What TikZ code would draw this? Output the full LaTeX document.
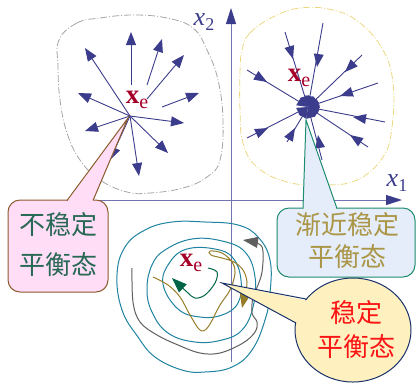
\documentclass[tikz,border=0pt]{standalone}
\usepackage{fontspec}
\setmainfont{Liberation Serif}
\newfontfamily\cjk{Noto Sans CJK SC}
\usetikzlibrary{arrows.meta,calc}

\definecolor{vecblue}{RGB}{60,60,140}
\definecolor{axisblue}{RGB}{115,115,175}
\definecolor{xered}{RGB}{165,0,40}
\definecolor{ringteal}{RGB}{30,130,160}
\definecolor{trajgray}{RGB}{95,95,95}
\definecolor{trajolive}{RGB}{150,125,40}
\definecolor{trajgreen}{RGB}{0,100,70}
\definecolor{regiongray}{RGB}{165,165,165}
\definecolor{regionyellow}{RGB}{235,215,130}
\definecolor{pinkfill}{RGB}{255,221,246}
\definecolor{pinkline}{RGB}{140,90,45}
\definecolor{pinktext}{RGB}{40,105,85}
\definecolor{bluefill}{RGB}{229,236,250}
\definecolor{blueline}{RGB}{30,140,110}
\definecolor{bluetext}{RGB}{170,150,70}
\definecolor{yellowfill}{RGB}{255,240,192}
\definecolor{yellowline}{RGB}{25,50,105}
\definecolor{yellowtext}{RGB}{250,20,20}

% equilibrium label x_e
\newcommand{\xeq}{{\fontsize{27}{27}\selectfont\bfseries x}\raisebox{-5pt}{\fontsize{20}{20}\selectfont e}}
% axis label x_i
\newcommand{\axlab}[1]{{\fontsize{26}{26}\selectfont\itshape x}\raisebox{-5pt}{\fontsize{18}{18}\selectfont #1}}
% filled head at #2, pointing away from #1
\newcommand{\midtip}[2]{\fill[vecblue] (#2) -- ($(#2)!13pt!(#1)!5pt!90:(#1)$)
  -- ($(#2)!13pt!(#1)!5pt!-90:(#1)$) -- cycle;}

\tikzset{
  vec/.style={color=vecblue, line width=0.9pt, -{Triangle[length=13pt,width=10pt]}},
  endvec/.style={color=vecblue, line width=0.9pt, -{Triangle[length=11pt,width=9pt]}},
  axis/.style={draw=axisblue, line width=1pt, -{Triangle[length=16pt,width=10pt,color=vecblue]}},
  region/.style={line width=0.8pt, dash pattern=on 7pt off 2pt on 1pt off 2pt},
  ring/.style={draw=ringteal, line width=1pt},
  traj/.style={line width=1pt, -{Triangle[length=15pt,width=11pt]}},
  eqlabel/.style={text=xered, inner sep=0pt},
  calltext/.style={font=\cjk\fontsize{26}{#1}\selectfont, align=center, inner sep=0pt},
}

\begin{document}
\begin{tikzpicture}[x=1pt,y=-1pt]
  \useasboundingbox (0,0) rectangle (417,384);

  % koordinat eksenleri
  \draw[axis] (25,200) -- (402,200);
  \draw[axis] (231,362) -- (231,8);
  \node (xone) at (397,183) {\color{vecblue}\axlab{1}};
  \node (xtwo) at (204,22) {\color{vecblue}\axlab{2}};

  % kararsiz denge: disa dogru vektorler
  \coordinate (lc) at (130,116);
  \draw[region, draw=regiongray] plot[smooth cycle, tension=0.7] coordinates {
    (59,40) (77,23) (100,18) (133,15) (167,18) (193,28) (207,50) (218,80) (223,120)
    (220,160) (207,177) (183,188) (150,193) (127,192) (100,180) (80,160) (67,133) (60,100) (58,67)};
  \foreach \tx/\ty in {85/48, 184/123, 168/153, 139/176, 110/160, 85/131, 78/93}
    \draw[vec] (lc) -- (\tx,\ty);
  \foreach \sx/\sy/\tx/\ty in {131/85/131/32, 147/85/162/39, 147/99/184/55, 162/107/199/93}
    \draw[vec] (\sx,\sy) -- (\tx,\ty);
  \node[eqlabel] (xeleft) at (137,100) {\xeq};

  % asimptotik kararli denge: ice dogru vektorler
  \coordinate (rc) at (308,107);
  \draw[region, draw=regionyellow] plot[smooth cycle, tension=0.7] coordinates {
    (242,50) (250,33) (273,17) (300,8) (333,10) (360,23) (383,50) (393,83) (392,127)
    (383,157) (357,180) (323,185) (287,182) (257,167) (243,143) (240,110) (240,73)};
  \foreach \sx/\sy in {285/32, 323/23, 362/55, 378/83, 385/122, 368/147, 247/70, 247/138, 287/142, 322/160}
    \draw[endvec] (\sx,\sy) -- (rc);
  % ara ok uclari
  \midtip{285,32}{293,59}
  \midtip{323,23}{317,67}
  \midtip{362,55}{345,72}
  \midtip{378,83}{340,96}
  \midtip{385,122}{353,117}
  \midtip{368,147}{350,135}
  \midtip{247,70}{267,82}
  \midtip{247,138}{268,128}
  \midtip{287,142}{295,128}
  \midtip{322,160}{318,135}
  \node[eqlabel] (xeright) at (299,78) {\xeq};

  % kararli denge: es yukseklik egrileri ve yorungeler
  \draw[ring] plot[smooth cycle, tension=0.7] coordinates {
    (117,275) (125,247) (145,230) (172,222) (205,222) (238,225) (258,237) (270,260) (270,293)
    (265,320) (252,350) (232,367) (205,372) (182,370) (155,357) (138,337) (122,310)};
  \draw[ring] plot[smooth cycle, tension=0.7] coordinates {
    (147,289) (152,265) (165,250) (192,239) (222,241) (245,252) (255,277) (253,307)
    (242,330) (222,340) (195,342) (168,333) (152,312)};
  \draw[ring] plot[smooth cycle, tension=0.7] coordinates {
    (163,284) (170,262) (187,249) (215,249) (233,258) (241,280) (238,303) (222,315)
    (200,317) (178,309)};
  \draw[traj, trajgray] plot[smooth, tension=0.6] coordinates {
    (132,268) (133,302) (140,322) (157,335) (178,345) (200,353) (220,353) (243,343)
    (255,332) (257,322) (252,313) (253,297) (258,285) (262,272) (263,252) (259,244) (243,240)};
  \draw[traj, trajolive] plot[smooth, tension=0.6] coordinates {
    (153,277) (168,285) (180,297) (190,315) (200,330) (208,327) (220,305) (230,290)
    (235,273) (232,262) (222,253) (210,251) (211,255) (222,258) (234,262) (243,270)
    (247,282) (245,294) (242,308)};
  \draw[traj, trajgreen] plot[smooth, tension=0.6] coordinates {
    (208,268) (217,272) (215,283) (205,295) (195,298) (187,292) (172,278)};
  \node[eqlabel] (xebottom) at (191,263) {\xeq};

  % aciklama balonlari
  \coordinate (lptr) at (128,118);
  \draw[draw=pinkline, fill=pinkfill, line width=1pt, rounded corners=12pt] (8,200) rectangle (108,292);
  \fill[pinkfill] (67,202) -- (lptr) -- (93,202) -- cycle;
  \draw[pinkline, line width=1pt, line join=miter] (67,200.5) -- (lptr) -- (93,200.5);
  \node[calltext=40, text=pinktext] (unstable) at (58,245) {不稳定\\平衡态};

  \coordinate (rptr) at (306,120);
  \draw[draw=blueline, fill=bluefill, line width=1pt, rounded corners=12pt] (277,208) rectangle (415,277);
  \fill[bluefill] (303,210) -- (rptr) -- (337,210) -- cycle;
  \draw[blueline, line width=1pt, line join=miter] (303,208.5) -- (rptr) -- (337,208.5);
  \node[calltext=32, text=bluetext] (asymstable) at (347,241) {渐近稳定\\平衡态};

  \coordinate (bptr) at (222,283);
  \draw[draw=yellowline, fill=yellowfill, line width=1pt] (353,330) ellipse [x radius=58, y radius=52];
  \fill[yellowfill] (309,301) -- (bptr) -- (299,324) -- cycle;
  \draw[yellowline, line width=1pt, line join=miter] (306,299) -- (bptr) -- (296,323);
  \node[calltext=34, text=yellowtext] (stable) at (356,330) {稳定\\平衡态};
\end{tikzpicture}
\end{document}
